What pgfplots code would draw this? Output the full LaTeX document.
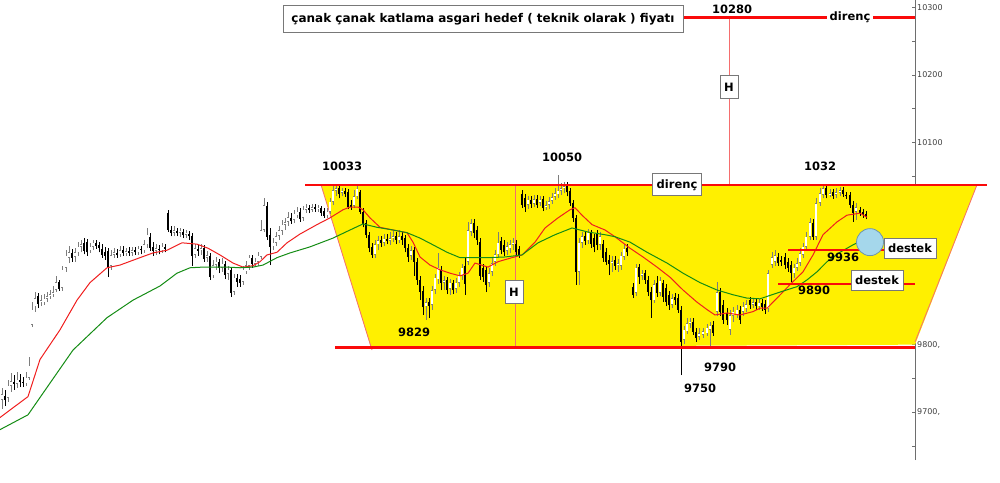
\documentclass[border=0pt]{standalone}
\usepackage{pgfplots}
\pgfplotsset{compat=1.18}
\usepackage{pgfplotstable}
\usepackage{fontspec}
\setmainfont{DejaVu Sans}

\definecolor{trapyellow}{RGB}{255,240,0}
\definecolor{lvlred}{RGB}{250,10,10}
\definecolor{edgered}{RGB}{245,110,110}
\definecolor{mared}{RGB}{240,30,30}
\definecolor{magreen}{RGB}{20,140,20}
\definecolor{circblue}{RGB}{165,215,235}
\definecolor{circedge}{RGB}{110,150,170}
\definecolor{upgray}{RGB}{125,125,125}
\definecolor{boxgray}{RGB}{120,120,120}
\definecolor{axgray}{RGB}{110,110,110}

% daily candles: x position, open, high, low, close
\pgfplotstableread{
x o h l c
2 9718 9736 9705 9727
5 9724 9733 9709 9718
8 9721 9748 9715 9739
11 9739 9758 9730 9746
14 9745 9755 9733 9742
17 9742 9760 9736 9748
20 9748 9757 9737 9745
23 9745 9752 9737 9743
26 9743 9760 9739 9751
29 9751 9782 9748 9769
32 9829 9863 9826 9852
35 9857 9878 9849 9869
38 9872 9877 9854 9860
41 9863 9874 9857 9866
44 9863 9875 9859 9868
47 9868 9878 9863 9872
50 9872 9881 9868 9875
53 9875 9887 9871 9878
56 9881 9902 9878 9893
59 9893 9896 9880 9883
62 9884 9917 9880 9911
66 9914 9940 9908 9932
69 9929 9946 9921 9937
72 9936 9942 9923 9929
75 9930 9943 9923 9937
78 9937 9952 9932 9945
81 9945 9955 9937 9949
84 9951 9958 9934 9939
87 9952 9957 9932 9937
90 9940 9951 9936 9945
93 9945 9955 9940 9951
96 9951 9955 9942 9946
99 9948 9952 9937 9943
102 9942 9949 9929 9933
105 9937 9945 9926 9932
108 9939 9943 9900 9914
111 9917 9940 9911 9933
114 9933 9943 9929 9937
117 9936 9942 9929 9933
120 9934 9946 9930 9940
123 9940 9946 9932 9936
126 9936 9943 9932 9939
129 9939 9945 9932 9936
132 9936 9945 9932 9940
135 9940 9945 9933 9937
138 9937 9946 9933 9942
141 9942 9946 9934 9940
144 9940 9955 9936 9949
147 9949 9973 9943 9963
150 9960 9966 9939 9943
153 9945 9952 9932 9939
156 9939 9949 9933 9943
159 9942 9948 9934 9940
162 9940 9951 9936 9945
165 9945 9949 9937 9942
168 9995 10000 9967 9970
171 9970 9976 9961 9966
174 9966 9976 9961 9970
177 9969 9973 9961 9966
180 9966 9973 9960 9969
183 9967 9971 9958 9963
186 9963 9970 9958 9966
189 9964 9969 9955 9961
192 9961 9966 9917 9932
195 9933 9949 9929 9943
198 9942 9948 9932 9939
201 9940 9949 9933 9943
204 9943 9948 9923 9927
207 9929 9939 9923 9933
210 9932 9936 9896 9900
213 9903 9926 9899 9918
216 9918 9930 9911 9923
219 9923 9927 9906 9914
222 9914 9929 9908 9920
225 9920 9924 9897 9903
228 9905 9917 9896 9911
231 9911 9914 9871 9877
234 9878 9905 9874 9899
237 9899 9905 9886 9893
240 9897 9903 9886 9892
243 9893 9917 9889 9911
246 9909 9924 9905 9918
249 9917 9933 9911 9929
252 9929 9933 9914 9920
255 9920 9929 9915 9923
258 9923 9937 9917 9932
261 9930 9985 9927 9970
264 9970 10017 9967 10007
267 10006 10012 9955 9960
270 9963 9973 9918 9945
273 9946 9958 9940 9951
276 9951 9967 9946 9961
279 9961 9976 9955 9970
282 9969 9985 9963 9978
285 9978 9988 9970 9982
288 9982 9997 9976 9989
291 9988 9995 9979 9983
294 9985 10000 9980 9994
297 9992 10004 9988 9997
300 9997 10003 9982 9986
303 9988 10006 9983 10000
306 10000 10009 9995 10003
309 10003 10007 9995 10000
312 10000 10009 9997 10004
315 10004 10009 9997 10001
318 10001 10007 9997 10003
321 10003 10006 9991 9995
324 9998 10003 9988 9991
327 9992 10003 9988 9997
330 9997 10017 9994 10012
333 10012 10035 10007 10029
336 10028 10037 10020 10032
339 10032 10035 10017 10023
342 10025 10032 10020 10028
345 10028 10032 10019 10023
348 10026 10031 10001 10004
351 10007 10015 10000 10004
354 10006 10029 10003 10020
357 10020 10035 10016 10031
360 10026 10029 9994 9997
363 9997 10003 9974 9979
366 9980 9985 9958 9963
369 9963 9967 9937 9943
372 9945 9951 9929 9933
375 9933 9955 9929 9949
378 9949 9961 9940 9955
381 9955 9961 9945 9951
384 9951 9964 9946 9957
387 9957 9964 9949 9954
390 9954 9967 9948 9958
393 9958 9969 9952 9961
396 9961 9967 9949 9955
399 9955 9970 9951 9961
402 9961 9967 9948 9955
405 9958 9963 9937 9943
408 9943 9949 9923 9930
411 9932 9946 9926 9940
414 9940 9945 9902 9923
417 9923 9929 9889 9896
420 9896 9902 9866 9878
423 9880 9887 9844 9856
426 9857 9869 9837 9863
429 9863 9869 9840 9857
432 9859 9887 9852 9881
435 9881 9905 9875 9899
438 9897 9936 9890 9914
441 9911 9917 9881 9892
444 9892 9902 9881 9896
447 9896 9900 9875 9881
450 9883 9897 9874 9892
453 9892 9896 9875 9881
456 9883 9899 9877 9892
459 9892 9908 9886 9902
462 9902 9920 9896 9914
465 9917 9929 9874 9890
468 9923 9982 9918 9970
471 9967 9986 9961 9980
474 9980 9986 9958 9966
477 9970 9976 9948 9955
480 9952 9958 9896 9902
483 9914 9920 9893 9900
486 9911 9917 9878 9889
489 9892 9914 9886 9906
492 9908 9929 9902 9921
495 9923 9940 9917 9934
498 9934 9967 9929 9951
501 9954 9960 9934 9940
504 9948 9955 9932 9937
507 9939 9952 9933 9946
510 9943 9955 9936 9949
513 9948 9958 9940 9951
516 9949 9955 9932 9937
519 9942 9946 9929 9933
522 10023 10029 10003 10007
525 10017 10023 9997 10004
528 10007 10020 10001 10015
531 10015 10020 10003 10009
534 10009 10022 10004 10016
537 10016 10022 10003 10007
540 10010 10020 10006 10015
543 10016 10020 9998 10003
546 10004 10013 10000 10007
549 10007 10019 10001 10013
552 10013 10025 10009 10019
555 10019 10032 10015 10025
558 10023 10052 10017 10028
561 10028 10040 10022 10032
564 10032 10041 10025 10035
567 10035 10041 10020 10026
570 10028 10032 10006 10010
573 10010 10015 9982 9988
576 9988 9992 9889 9908
579 9908 9958 9889 9951
582 9951 9967 9943 9961
585 9961 9967 9948 9954
588 9955 9971 9949 9966
591 9966 9970 9943 9949
594 9958 9964 9937 9945
597 9964 9970 9940 9948
600 9948 9967 9940 9961
603 9949 9955 9923 9929
606 9937 9943 9918 9923
609 9926 9933 9903 9920
612 9921 9932 9908 9924
615 9926 9932 9911 9917
618 9918 9927 9908 9921
621 9917 9937 9911 9932
624 9930 9949 9926 9942
627 9943 9949 9932 9937
633 9886 9892 9869 9874
636 9877 9920 9872 9914
639 9915 9920 9890 9900
642 9902 9911 9896 9905
645 9906 9911 9890 9896
648 9896 9902 9872 9878
651 9878 9886 9840 9866
654 9866 9896 9862 9890
657 9892 9902 9871 9877
660 9877 9900 9872 9895
663 9892 9896 9863 9871
666 9884 9890 9857 9863
669 9874 9880 9852 9859
672 9859 9875 9854 9869
675 9871 9877 9859 9866
678 9869 9875 9847 9852
681 9852 9857 9755 9804
684 9807 9828 9801 9822
687 9820 9840 9816 9832
690 9831 9840 9825 9834
693 9834 9840 9815 9819
696 9819 9825 9804 9810
699 9812 9825 9807 9817
703 9815 9825 9810 9820
707 9817 9831 9813 9825
710 9822 9834 9795 9828
713 9829 9835 9813 9817
717 9849 9893 9843 9878
720 9878 9884 9843 9849
723 9859 9866 9831 9837
727 9847 9854 9829 9837
730 9822 9852 9815 9844
733 9843 9856 9834 9849
737 9844 9859 9840 9852
740 9852 9857 9831 9837
743 9849 9863 9843 9856
746 9854 9866 9849 9860
750 9866 9871 9853 9859
753 9859 9869 9854 9863
756 9863 9869 9852 9857
759 9857 9868 9852 9862
762 9862 9868 9850 9856
765 9860 9866 9846 9852
768 9854 9911 9849 9906
772 9918 9937 9914 9930
775 9923 9940 9917 9933
778 9930 9936 9917 9921
781 9926 9932 9917 9923
785 9930 9936 9912 9918
788 9923 9929 9908 9914
791 9918 9924 9893 9906
794 9906 9920 9899 9914
797 9914 9929 9909 9921
800 9921 9943 9917 9936
803 9933 9951 9929 9945
806 9945 9967 9940 9960
810 9960 9988 9955 9982
813 9980 9986 9955 9960
816 9960 10017 9955 10010
820 10010 10032 10006 10025
823 10022 10038 10017 10032
826 10032 10037 10017 10022
830 10023 10031 10019 10025
833 10026 10031 10016 10020
836 10022 10032 10017 10026
840 10025 10034 10020 10029
843 10029 10034 10019 10023
846 10022 10026 10016 10020
850 10022 10026 10003 10007
853 10007 10013 9982 9995
856 9997 10010 9985 10004
860 10000 10004 9991 9995
863 9997 10001 9988 9992
866 9994 9998 9986 9989
}\candles

% one vertical stroke per candle, from y up by the "plus" amount;
% strokes of zero length (the other direction's candles) leave no trace
\pgfplotsset{
  candlebar/.style 2 args={draw=none, mark=none, forget plot,
    error bars/y dir=plus, error bars/y explicit, error bars/error mark=none,
    error bars/error bar style={draw=#2, line width=#1, line cap=butt}},
}

\newcommand{\lbl}{\fontsize{11.5}{13}\selectfont\bfseries}
\tikzset{tag/.style={draw=boxgray, line width=0.8pt, fill=white, font=\lbl,
  inner xsep=4pt, inner ysep=3pt}}

\begin{document}
\begin{tikzpicture}
\useasboundingbox (0pt,-22pt) rectangle (1000pt,460pt);
\begin{axis}[
  at={(0pt,0pt)}, anchor=south west,
  scale only axis, width=915pt, height=460pt,
  xmin=0, xmax=915, ymin=9629, ymax=10311,
  clip=false,
  axis x line=none,
  axis y line*=right,
  y axis line style={draw=axgray, line width=0.6pt},
  ytick={9700,9800,9900,10000,10100,10200,10300},
  yticklabels={9700{,},9800{,},9900{,},10000,10100,10200,10300},
  minor ytick={9650,9750,9850,9950,10050,10150,10250},
  tick align=inside,
  major tick length=3pt, minor tick length=3pt,
  every tick/.style={axgray, line width=0.5pt},
  yticklabel style={font=\fontsize{8}{9}\selectfont, text=black!75, inner sep=1pt, xshift=1pt},
]
% channel body
\addplot[fill=trapyellow, draw=none, forget plot]
  coordinates {(321,10037) (977,10037) (915,9800) (371,9796)} -- cycle;
\addplot[edgered, line width=0.8pt, forget plot] coordinates {(321,10037) (372,9792)};
\addplot[edgered, line width=0.8pt, forget plot] coordinates {(977,10037) (915,9804)};
% measuring lines
\addplot[edgered, line width=0.8pt, forget plot] coordinates {(729,10285) (729,10037)};
\addplot[edgered, line width=0.8pt, forget plot] coordinates {(515,10037) (515,9796)};

% wicks: grey for every candle, black over the falling ones
\addplot[candlebar={0.7pt}{upgray}]
  table[x=x, y expr=\thisrow{l}, y error plus expr={\thisrow{h}-\thisrow{l}}] {\candles};
\addplot[candlebar={0.7pt}{black}]
  table[x=x, y expr=\thisrow{l}, y error plus expr={(\thisrow{h}-\thisrow{l})*(\thisrow{o}>\thisrow{c})}] {\candles};
% rising bodies: grey outline, white inside
\addplot[candlebar={2.8pt}{upgray}]
  table[x=x, y expr=\thisrow{o}, y error plus expr={max(\thisrow{c}-\thisrow{o},0)}] {\candles};
\addplot[candlebar={1.3pt}{white}]
  table[x=x, y expr={\thisrow{o}+0.9}, y error plus expr={max(\thisrow{c}-\thisrow{o}-1.8,0)}] {\candles};
% falling bodies: solid black
\addplot[candlebar={2.8pt}{black}]
  table[x=x, y expr=\thisrow{c}, y error plus expr={max(\thisrow{o}-\thisrow{c},0)}] {\candles};

% moving averages
\addplot[mared, line width=1pt, mark=none] coordinates {
(0,9692) (28,9723) (40,9778) (60,9822) (77,9866) (90,9892) (107,9914)
(120,9918) (140,9929) (153,9936) (167,9940) (182,9951) (197,9949) (208,9943)
(220,9933) (233,9921) (243,9915) (253,9917) (260,9923) (267,9933) (277,9937)
(287,9951) (300,9964) (317,9978) (330,9988) (343,10000) (350,10004) (358,10004)
(363,10000) (370,9988) (380,9974) (393,9970) (407,9966) (413,9952) (420,9930)
(430,9918) (440,9911) (450,9906) (460,9902) (468,9906) (475,9921) (488,9915)
(498,9923) (512,9929) (522,9933) (535,9952) (545,9973) (558,9988) (570,10000)
(575,10003) (582,9992) (592,9978) (605,9970) (615,9960) (630,9943) (643,9930)
(657,9915) (670,9900) (683,9881) (697,9863) (707,9852) (715,9844) (727,9847)
(740,9844) (753,9849) (760,9854) (767,9854) (777,9869) (790,9889) (803,9908)
(813,9933) (823,9963) (837,9982) (847,9992) (860,9995) (867,9989)};
\addplot[magreen, line width=1pt, mark=none] coordinates {
(0,9674) (28,9696) (50,9743) (73,9792) (107,9840) (133,9866) (160,9887)
(177,9906) (190,9914) (203,9915) (227,9915) (240,9914) (253,9915) (263,9918)
(277,9929) (290,9936) (310,9945) (333,9958) (350,9970) (363,9979) (377,9974)
(393,9970) (407,9966) (420,9958) (433,9948) (447,9937) (460,9929) (472,9929)
(488,9929) (505,9930) (522,9933) (538,9951) (555,9963) (572,9973) (588,9967)
(605,9963) (615,9960) (630,9952) (647,9937) (667,9921) (683,9906) (700,9892)
(717,9881) (733,9874) (747,9869) (760,9868) (780,9878) (797,9886) (807,9896)
(817,9908) (827,9923) (840,9937) (853,9948) (863,9955)};

% levels
\addplot[lvlred, line width=2.6pt, forget plot] coordinates {(305,10037) (987,10037)};
\addplot[lvlred, line width=2.6pt, forget plot] coordinates {(335,9796) (915,9796)};
\addplot[lvlred, line width=2.5pt, forget plot] coordinates {(683,10285) (915,10285)};
\addplot[lvlred, line width=2.5pt, forget plot] coordinates {(788,9940) (884,9940)};
\addplot[lvlred, line width=2.5pt, forget plot] coordinates {(778,9890) (915,9890)};

% highlighted point
\addplot[only marks, mark=*, mark size=13.5pt,
  mark options={fill=circblue, draw=circedge, line width=0.8pt}] coordinates {(870,9952)};

% annotations
\node[tag, minimum width=400pt, minimum height=27pt, font=\fontsize{12}{14}\selectfont\bfseries] at (axis cs:483,10283)
  {çanak çanak katlama asgari hedef ( teknik olarak ) fiyatı};
\node[font=\lbl] at (axis cs:732,10297) {10280};
\node[fill=white, font=\lbl, inner sep=3pt] at (axis cs:850,10286) {direnç};
\node[tag, minimum width=18pt, minimum height=23pt, inner xsep=2pt] at (axis cs:729,10182) {H};
\node[tag, minimum width=18pt, minimum height=23pt, inner xsep=2pt] at (axis cs:514,9878) {H};
\node[tag, minimum height=22pt] at (axis cs:677,10037) {direnç};
\node[font=\lbl] at (axis cs:342,10065) {10033};
\node[font=\lbl] at (axis cs:562,10078) {10050};
\node[font=\lbl] at (axis cs:820,10065) {1032};
\node[font=\lbl] at (axis cs:414,9819) {9829};
\node[font=\lbl] at (axis cs:720,9767) {9790};
\node[font=\lbl] at (axis cs:700,9736) {9750};
\node[font=\lbl] at (axis cs:843,9930) {9936};
\node[font=\lbl] at (axis cs:814,9881) {9890};
\node[tag, minimum height=20pt] at (axis cs:910,9943) {destek};
\node[tag, minimum height=20pt] at (axis cs:877,9896) {destek};
\end{axis}
\end{tikzpicture}
\end{document}
